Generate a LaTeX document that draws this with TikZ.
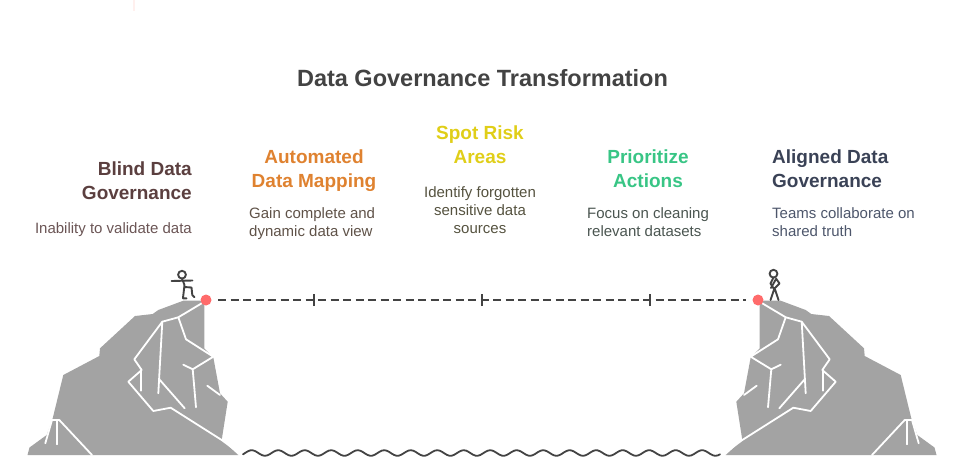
\documentclass[tikz,border=0pt]{standalone}
\usepackage{fontspec}
\setmainfont{Liberation Sans}
\definecolor{rockgray}{HTML}{A3A3A3}
\definecolor{ink}{HTML}{434343}
\definecolor{dotred}{HTML}{FF6B6B}
\definecolor{cbrown}{HTML}{5B3F3F}
\definecolor{corange}{HTML}{DF8230}
\definecolor{cyellow}{HTML}{E0CE18}
\definecolor{cgreen}{HTML}{38C585}
\definecolor{cnavy}{HTML}{3A4256}
\definecolor{tbrown}{HTML}{6B5555}
\definecolor{torange}{HTML}{5F5248}
\definecolor{tyellow}{HTML}{55523F}
\definecolor{tgreen}{HTML}{4A5550}
\definecolor{tnavy}{HTML}{4D566B}
\definecolor{faint}{HTML}{FFF0EE}
\tikzset{
 x=1pt,y=-1pt,
 crack/.style={draw=white,line width=1.8pt,line cap=round,line join=round},
 figure/.style={draw=ink,line width=1.9pt,line cap=round,line join=round},
 heading/.style={font=\fontsize{19}{24}\selectfont\bfseries,align=center,inner sep=0pt},
 body/.style={font=\fontsize{15}{18.2}\selectfont,align=left,inner sep=0pt},
 pt/.style={circle,fill=dotred,minimum size=11pt,inner sep=0pt},
 tick/.style={draw=ink,line width=1.9pt},
 link/.style={draw=ink,line width=1.9pt,dash pattern=on 8pt off 4.5pt},
 rock/.pic={
  \fill[rockgray] (27.5,455)--(29.5,447.5)--(46.7,435)--(52.7,418.3)--(63.3,375)--(99.3,356)--(100,348.3)--(135,316)--(152.7,314)--(158.3,310)--(183.3,300.7)--(200,300.7)--(204.3,303.3)--(204.3,348.3)--(213.3,357.3)--(220,393.3)--(227.7,401.7)--(221.7,440)--(238.3,455)--cycle;
  \draw[crack] (201.7,303.3)--(178.3,317.3)--(162.3,321.7)--(134.3,359.3)--(141.7,370)--(128.3,381.7)--(153.3,411)--(170.7,407.7)--(221.7,440)--(238,452);
  \draw[crack] (178.3,317.3)--(186,339.3)--(213.3,356.7)--(192.7,369.3)--(183.3,364.7);
  \draw[crack] (192.7,369.3)--(196,407.3);
  \draw[crack] (162.3,321.7)--(158.3,393.3);
  \draw[crack] (159.3,379.3)--(184.7,408.3);
  \draw[crack] (141,370)--(141,390.7);
  \draw[crack] (207.3,385.7)--(220,395);
  \draw[crack] (45.3,443.3)--(52,420)--(59.3,420)--(92,455);
  \draw[crack] (57.3,420)--(57.3,444.3);
 },
}
\begin{document}
\begin{tikzpicture}
\useasboundingbox (0,0) rectangle (969,475);
\fill[faint] (133,0) rectangle (135,11);
\pic at (0,0) {rock};
\pic[xscale=-1] at (964,0) {rock};
% figures
\draw[figure] (182,274.7) circle (3.9pt);
\draw[figure] (171.5,281)--(192.5,280.5) (182,278.5)--(184.5,285)--(183,298) (184.5,287)--(191.5,287.5)--(192.3,295)--(194.5,297.3) (183,298.3)--(186.5,298.3);
\draw[figure] (773.5,273.7) circle (3.9pt);
\draw[figure] (773.5,277.5)--(770.5,283.5)--(774,289)--(779.5,283.5)--(776,278.5) (776,279)--(771,288) (774,289.5)--(770.5,300) (775,289.5)--(778.5,300);
% bridge
\node[pt] (startdot) at (206,300) {};
\node[pt] (enddot) at (758,300) {};
\coordinate (a1) at (218,300);
\coordinate (a2) at (746,300);
\draw[link] (a1) -- (a2);
\coordinate (t1) at (314,300); \coordinate (t2) at (482,300); \coordinate (t3) at (650,300);
\draw[tick] ([yshift=-6pt]t1)--([yshift=6pt]t1);
\draw[tick] ([yshift=-6pt]t2)--([yshift=6pt]t2);
\draw[tick] ([yshift=-6pt]t3)--([yshift=6pt]t3);
% water
\draw[draw=ink,line width=1.8pt,line cap=round] plot[domain=243:720,samples=200,smooth] (\x,{453-2.8*cos((\x-251.7)*13.585)});
% text
\node[font=\fontsize{23.5}{28}\selectfont\bfseries,text=ink,inner sep=0pt] (title) at (482.5,78.5) {Data Governance Transformation};
\node[heading,text=cbrown,align=right,anchor=north east] (h1) at (192,161.5) {Blind Data\\Governance};
\node[heading,text=corange,anchor=north] (h2) at (314,150) {Automated\\Data Mapping};
\node[heading,text=cyellow,anchor=north] (h3) at (480,126) {Spot Risk\\Areas};
\node[heading,text=cgreen,anchor=north] (h4) at (648,150) {Prioritize\\Actions};
\node[heading,text=cnavy,align=left,anchor=north west] (h5) at (772,150) {Aligned Data\\Governance};
\node[body,text=tbrown,align=right,anchor=north east] (b1) at (192,222.5) {Inability to validate data};
\node[body,text=torange,anchor=north west] (b2) at (249,207.5) {Gain complete and\\dynamic data view};
\node[body,text=tyellow,align=center,anchor=north] (b3) at (480,186.5) {Identify forgotten\\sensitive data\\sources};
\node[body,text=tgreen,anchor=north west] (b4) at (587,207.5) {Focus on cleaning\\relevant datasets};
\node[body,text=tnavy,anchor=north west] (b5) at (772,207.5) {Teams collaborate on\\shared truth};
\end{tikzpicture}
\end{document}
